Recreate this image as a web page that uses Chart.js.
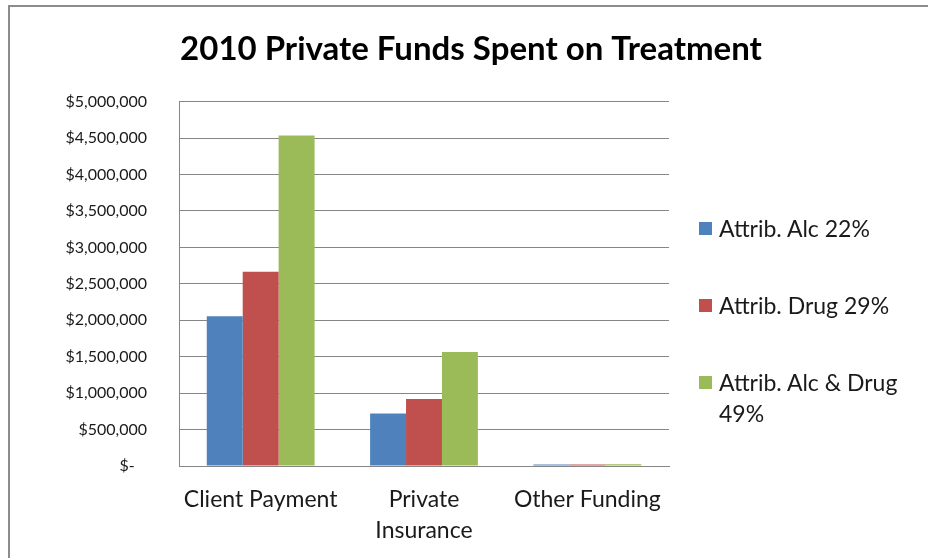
<!DOCTYPE html>
<html>
<head>
<meta charset="utf-8">
<script src="https://cdn.jsdelivr.net/npm/chart.js@4.4.1/dist/chart.umd.min.js"></script>
<style>
  html, body { margin: 0; padding: 0; background: #ffffff; }
  #wrap { position: relative; width: 928px; height: 558px; overflow: hidden; background: #fff; }
  #frame { position: absolute; left: 8px; top: 5px; width: 940px; height: 570px;
           border-top: 2px solid #8c8c8c; border-left: 2px solid #8c8c8c; pointer-events: none; }
  #c { position: absolute; left: 0; top: 0; }
  .lg-item { position: absolute; left: 699px; width: 210px; font-family: Lato, sans-serif;
             font-size: 23px; line-height: 31px; color: #1a1a1a; }
  .lg-box { position: absolute; left: 0; top: 9px; width: 13px; height: 13px; }
  .lg-text { position: absolute; left: 20px; top: 0; width: 190px; white-space: normal; }
</style>
</head>
<body>
<div id="wrap">
  <div id="frame"></div>
  <canvas id="c" width="928" height="558"></canvas>
  <div id="legend"></div>
</div>
<script>
// ---- data ----
const categories = ['Client Payment', ['Private', 'Insurance'], 'Other Funding'];
const seriesNames = ['Attrib. Alc 22%', 'Attrib. Drug 29%', 'Attrib. Alc & Drug 49%'];
const alcValues = [2055000, 720000, 20000];
const drugValues = [2665000, 920000, 22000];
const alcDrugValues = [4535000, 1565000, 25000];
const yTickValues = [0, 500000, 1000000, 1500000, 2000000, 2500000, 3000000, 3500000, 4000000, 4500000, 5000000];
const titleText = '2010 Private Funds Spent on Treatment';

const colors = ['#4F81BD', '#C0504D', '#9BBB59'];
const seriesValues = [alcValues, drugValues, alcDrugValues];

const datasets = seriesNames.map((name, i) => ({
  label: name,
  data: seriesValues[i],
  backgroundColor: colors[i],
  borderWidth: 0,
  categoryPercentage: 0.66,
  barPercentage: 1.0,
  yAxisID: 'y'
}));

function fmt(v) {
  if (v === 0) return '$-   ';
  return '$' + v.toLocaleString('en-US');
}

const gridColor = '#868686';

new Chart(document.getElementById('c'), {
  type: 'bar',
  data: { labels: categories, datasets: datasets },
  options: {
    responsive: false,
    animation: false,
    devicePixelRatio: 1,
    layout: { padding: { left: 14, right: 0, top: 0, bottom: 0 } },
    plugins: {
      legend: { display: false },
      tooltip: { enabled: false },
      title: {
        display: true,
        text: titleText,
        color: '#000',
        font: { family: 'Lato', size: 33, weight: 'bold', lineHeight: 1.2 },
        padding: { top: 30, bottom: 32 }
      }
    },
    scales: {
      x: {
        grid: { display: false, drawTicks: false },
        border: { display: true, color: gridColor, width: 1 },
        ticks: {
          color: '#1a1a1a',
          font: { family: 'Lato', size: 23, lineHeight: 1.35 },
          padding: 18,
          maxRotation: 0,
          autoSkip: false
        },
        afterFit: s => { s.height = 92; }
      },
      y: {
        min: 0,
        max: 5000000,
        afterBuildTicks: s => { s.ticks = yTickValues.map(v => ({ value: v })); },
        grid: { color: gridColor, lineWidth: 1, drawTicks: false },
        border: { display: true, color: gridColor, width: 1 },
        ticks: {
          color: '#1a1a1a',
          font: { family: 'Lato', size: 16 },
          padding: 32,
          callback: v => fmt(v)
        },
        afterFit: s => { s.width = 165; }
      },
      yR: {
        position: 'right',
        display: true,
        grid: { display: false, drawTicks: false },
        border: { display: false },
        ticks: { display: false },
        afterFit: s => { s.width = 259; }
      }
    }
  }
});

// HTML legend built from the series arrays
const lg = document.getElementById('legend');
seriesNames.forEach((name, i) => {
  const item = document.createElement('div');
  item.className = 'lg-item';
  item.style.top = (212.5 + i * 77) + 'px';
  const box = document.createElement('div');
  box.className = 'lg-box';
  box.style.background = colors[i];
  const txt = document.createElement('div');
  txt.className = 'lg-text';
  txt.textContent = name;
  item.appendChild(box);
  item.appendChild(txt);
  lg.appendChild(item);
});
</script>
</body>
</html>
